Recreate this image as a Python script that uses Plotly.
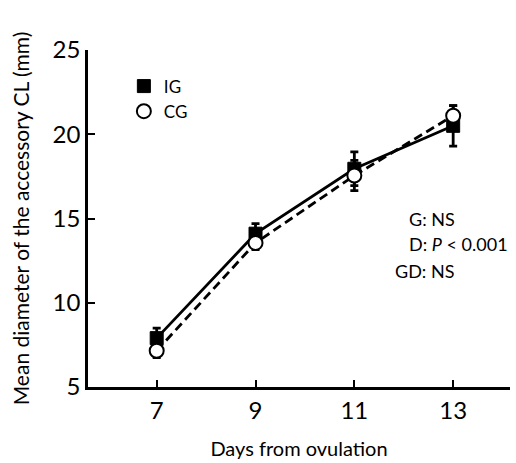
import plotly.graph_objects as go

days = [7, 9, 11, 13]
ig_mean = [7.9, 14.1, 17.95, 20.5]
ig_err = [0.6, 0.6, 1.0, 1.2]
cg_mean = [7.15, 13.55, 17.55, 21.1]
cg_err = [0.4, 0.4, 0.9, 0.6]
x_ticks = [7, 9, 11, 13]
y_ticks = [5, 10, 15, 20, 25]
stats_lines = ["G: NS", "D: <i>P</i> < 0.001", "GD: NS"]

FONT = "Lato"

fig = go.Figure()

fig.add_trace(go.Scatter(
    x=days, y=ig_mean, mode="lines+markers", showlegend=False,
    line=dict(color="black", width=2.8),
    marker=dict(symbol="square", size=13, color="black", line=dict(color="black", width=1)),
    error_y=dict(type="data", array=ig_err, color="black", thickness=2.8, width=4),
))
fig.add_trace(go.Scatter(
    x=days, y=cg_mean, mode="lines+markers", showlegend=False,
    line=dict(color="black", width=2.8, dash="9px,5px"),
    marker=dict(symbol="circle", size=14, color="white", line=dict(color="black", width=2)),
    error_y=dict(type="data", array=cg_err, color="black", thickness=2.8, width=4),
))
# legend entries
fig.add_trace(go.Scatter(
    x=[None], y=[None], mode="markers", name="IG",
    marker=dict(symbol="square", size=13, color="black", line=dict(color="black", width=1)),
))
fig.add_trace(go.Scatter(
    x=[None], y=[None], mode="markers", name="CG",
    marker=dict(symbol="circle", size=14, color="white", line=dict(color="black", width=2)),
))

fig.add_annotation(xref="paper", yref="y", x=0.755, y=15, text=stats_lines[0],
                   showarrow=False, xanchor="left", font=dict(size=18, family=FONT, color="black"))
fig.add_annotation(xref="paper", yref="y", x=0.755, y=13.5, text=stats_lines[1],
                   showarrow=False, xanchor="left", font=dict(size=18, family=FONT, color="black"))
fig.add_annotation(xref="paper", yref="y", x=0.722, y=11.9, text=stats_lines[2],
                   showarrow=False, xanchor="left", font=dict(size=18, family=FONT, color="black"))

fig.update_layout(
    width=516, height=463,
    margin=dict(l=88, r=6, t=50, b=76),
    paper_bgcolor="white", plot_bgcolor="white",
    font=dict(family=FONT, color="black"),
    legend=dict(x=0.085, y=0.945, xanchor="left", yanchor="top", bgcolor="rgba(0,0,0,0)",
                font=dict(size=17, family=FONT), tracegroupgap=0, itemwidth=30),
    xaxis=dict(
        range=[5.61, 14.15], tickvals=x_ticks, ticktext=[str(t) for t in x_ticks],
        showgrid=False, zeroline=False, showline=True, linecolor="black", linewidth=2.5,
        ticks="inside", ticklen=7, tickwidth=1.5, tickcolor="black",
        tickfont=dict(size=24, family=FONT),
        title=dict(text="Days from ovulation", font=dict(size=20, family=FONT), standoff=20),
    ),
    yaxis=dict(
        range=[5, 25], tickvals=y_ticks, ticktext=[str(t) for t in y_ticks],
        showgrid=False, zeroline=False, showline=True, linecolor="black", linewidth=2.5,
        ticks="inside", ticklen=7, tickwidth=1.5, tickcolor="black",
        tickfont=dict(size=24, family=FONT),
        title=dict(text="Mean diameter of the accessory CL (mm)", font=dict(size=21, family=FONT), standoff=18),
    ),
)

fig.write_html("out.html")
